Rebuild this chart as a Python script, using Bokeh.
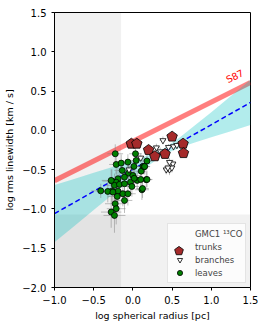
import numpy as np
from bokeh.plotting import figure
from bokeh.models import (BoxAnnotation, Legend, LegendItem,
                          CustomJSTickFormatter, FixedTicker)
from bokeh.core.properties import value
from bokeh.embed import file_html
from bokeh.resources import INLINE

FONT = "DejaVu Sans"

X_TICKS = [-1.0, -0.5, 0.0, 0.5, 1.0, 1.5]
Y_TICKS = [-2.0, -1.5, -1.0, -0.5, 0.0, 0.5, 1.0, 1.5]

# resolution limits (shaded regions)
RES_X = -0.15
RES_Y = -1.07

# Solomon et al. 1987 relation
S87_X = [-1.0, 1.5]
S87_Y = [-0.64, 0.61]

# fitted relation and its confidence band
FIT_X = [-1.0, 1.5]
FIT_Y = [-1.06, 0.355]
BAND_X = [-1.0, -0.75, -0.5, -0.25, 0.0, 0.2, 0.4, 0.6, 0.8, 1.0, 1.25, 1.5]
BAND_LO = [-1.425, -1.219, -1.014, -0.809, -0.605, -0.446, -0.308, -0.219, -0.152, -0.088, -0.010, 0.067]
BAND_HI = [-0.695, -0.619, -0.540, -0.463, -0.383, -0.316, -0.228, -0.089, 0.070, 0.232, 0.437, 0.643]

# trunks
trunk_x = [-0.02, 0.05, 0.20, 0.28, 0.41, 0.50, 0.64, 0.645]
trunk_y = [-0.17, -0.17, -0.25, -0.33, -0.30, -0.08, -0.17, -0.29]

# branches
branch_x = [0.383, 0.454, 0.518, 0.561, 0.425, 0.467, 0.51, 0.497, 0.467, 0.446, 0.25, 0.10, -0.05, 0.30, 0.35]
branch_y = [-0.128, -0.214, -0.205, -0.19, -0.50, -0.50, -0.425, -0.476, -0.405, -0.476, -0.30, -0.35, -0.50, -0.22, -0.27]
branch_xerr = [0.04, 0.04, 0.03, 0.04, 0.04, 0.03, 0.04, 0.03, 0.04, 0.03, 0.05, 0.05, 0.06, 0.04, 0.04]
branch_yerr = [0.05, 0.04, 0.05, 0.04, 0.06, 0.07, 0.05, 0.06, 0.05, 0.06, 0.05, 0.06, 0.08, 0.05, 0.05]

# leaves
leaf_x = [-0.225, 0.033, -0.213, -0.149, -0.064, 0.042, -0.136, 0.013, 0.128, 0.106,
          -0.056, 0.0, -0.19, -0.107, -0.268, -0.213, -0.235, -0.171, -0.107, -0.031,
          0.055, 0.17, 0.115, -0.268, -0.19, -0.128, -0.2, -0.107, -0.226, -0.213,
          -0.32, -0.41, -0.277, -0.235, -0.064, -0.013, 0.144, 0.017, 0.10, 0.18,
          0.123, 0.18, 0.15, -0.277, -0.255]
leaf_y = [-0.298, -0.298, -0.434, -0.417, -0.404, -0.383, -0.51, -0.459, -0.459, -0.519,
          -0.545, -0.574, -0.616, -0.595, -0.646, -0.66, -0.70, -0.688, -0.68, -0.66,
          -0.637, -0.628, -0.756, -0.774, -0.774, -0.807, -0.841, -0.892, -0.934, -0.997,
          -0.777, -0.77, -1.04, -1.083, -0.807, -0.714, -0.463, -0.61, -0.625, -0.625,
          -0.74, -0.39, -0.46, -0.637, -0.786]
leaf_xerr = [0.10, 0.08, 0.09, 0.10, 0.08, 0.07, 0.10, 0.09, 0.07, 0.08,
             0.09, 0.10, 0.11, 0.09, 0.12, 0.10, 0.12, 0.11, 0.10, 0.09,
             0.08, 0.07, 0.09, 0.13, 0.12, 0.11, 0.12, 0.10, 0.13, 0.12,
             0.14, 0.12, 0.13, 0.14, 0.10, 0.09, 0.07, 0.08, 0.08, 0.07,
             0.08, 0.06, 0.07, 0.12, 0.12]
leaf_yerr = [0.12, 0.10, 0.12, 0.11, 0.10, 0.09, 0.13, 0.11, 0.10, 0.11,
             0.12, 0.12, 0.14, 0.12, 0.15, 0.14, 0.15, 0.14, 0.13, 0.12,
             0.12, 0.10, 0.13, 0.16, 0.15, 0.16, 0.17, 0.16, 0.18, 0.20,
             0.14, 0.09, 0.20, 0.22, 0.15, 0.13, 0.10, 0.11, 0.11, 0.10,
             0.12, 0.08, 0.09, 0.14, 0.16]

p = figure(frame_width=196, frame_height=275, x_range=(-1.0, 1.5), y_range=(-2.0, 1.5),
           output_backend="svg", toolbar_location=None,
           min_border_left=54, min_border_right=8, min_border_top=12, min_border_bottom=34)
p.background_fill_color = "white"
p.border_fill_color = "white"
p.outline_line_color = "black"
p.outline_line_width = 1
p.grid.visible = False

# shaded regions
p.add_layout(BoxAnnotation(right=RES_X, fill_color="black", fill_alpha=0.055,
                           line_color=None, level="underlay"))
p.add_layout(BoxAnnotation(top=RES_Y, fill_color="black", fill_alpha=0.055,
                           line_color=None, level="underlay"))

# S87 line
p.line(S87_X, S87_Y, line_color="red", line_alpha=0.5, line_width=5)
p.text(x=[1.30], y=[0.69], text=["S87"], angle=np.arctan(0.5),
       text_color="red", text_font=value(FONT), text_font_size="9.5px",
       text_align="center", text_baseline="middle")

# confidence band
p.varea(x=BAND_X, y1=BAND_LO, y2=BAND_HI, fill_color=(0, 191, 191), fill_alpha=0.3)
p.line(FIT_X, FIT_Y, line_color="blue", line_dash="5 3", line_width=1.5)

# error bars
lx = np.array(leaf_x); ly = np.array(leaf_y)
lxe = np.array(leaf_xerr); lye = np.array(leaf_yerr)
bx = np.array(branch_x); by = np.array(branch_y)
bxe = np.array(branch_xerr); bye = np.array(branch_yerr)
p.segment(lx - lxe, ly, lx + lxe, ly, line_color="gray", line_alpha=0.5, line_width=1)
p.segment(lx, ly - lye, lx, ly + lye, line_color="gray", line_alpha=0.5, line_width=1)
p.segment(bx - bxe, by, bx + bxe, by, line_color="gray", line_alpha=0.5, line_width=1)
p.segment(bx, by - bye, bx, by + bye, line_color="gray", line_alpha=0.5, line_width=1)

r_leaf = p.scatter(leaf_x, leaf_y, marker="circle", size=6, fill_color="green",
                   line_color="black", line_width=0.8)
r_branch = p.scatter(branch_x, branch_y, marker="inverted_triangle", size=6,
                     fill_color="white", line_color="black", line_width=0.8)
r_trunk = p.ngon(x=trunk_x, y=trunk_y, radius=5.5, radius_units="screen", n=5,
                 fill_color="brown", line_color="black", line_width=0.8)
r_dummy = p.scatter([0], [0], size=0, fill_alpha=0, line_alpha=0)

# main legend box (trunk glyph drawn by a second, larger-glyph legend on top)
legend = Legend(items=[LegendItem(label="GMC1 ¹³CO", renderers=[r_dummy]),
                       LegendItem(label="trunks", renderers=[r_dummy]),
                       LegendItem(label="branches", renderers=[r_branch]),
                       LegendItem(label="leaves", renderers=[r_leaf])],
                location=(113, 4), margin=0, padding=3, spacing=-1,
                glyph_width=17, glyph_height=13, label_height=11,
                label_standoff=7, label_text_font=FONT, label_text_font_size="8.5px",
                border_line_color="#cccccc", border_line_width=1,
                background_fill_color="white", background_fill_alpha=0.8)
p.add_layout(legend)
legend_trunk = Legend(items=[LegendItem(label=" ", renderers=[r_trunk])],
                      location=(113, 25.5), margin=0, padding=0, spacing=0,
                      glyph_width=23, glyph_height=23, label_height=1, label_standoff=0,
                      label_text_font_size="1px",
                      border_line_color=None, background_fill_alpha=0)
p.add_layout(legend_trunk)

for ax in (p.xaxis[0], p.yaxis[0]):
    ax.major_label_text_font = FONT
    ax.major_label_text_font_size = "10px"
    ax.major_label_text_color = "black"
    ax.axis_label_text_font = FONT
    ax.axis_label_text_font_size = "9.5px"
    ax.axis_label_text_font_style = "normal"
    ax.axis_label_text_color = "black"
    ax.axis_line_color = "black"
    ax.major_tick_line_color = "black"
    ax.major_tick_out = 3
    ax.major_tick_in = 0
    ax.minor_tick_line_color = None
    ax.formatter = CustomJSTickFormatter(code="return tick.toFixed(1).replace('-', '\\u2212')")
p.xaxis[0].ticker = FixedTicker(ticks=X_TICKS)
p.yaxis[0].ticker = FixedTicker(ticks=Y_TICKS)
p.xaxis[0].axis_label = "log spherical radius [pc]"
p.yaxis[0].axis_label = "log rms linewidth [km / s]"
p.xaxis[0].axis_label_standoff = 3
p.yaxis[0].axis_label_standoff = 4

open("out.html", "w").write(file_html(p, INLINE))
